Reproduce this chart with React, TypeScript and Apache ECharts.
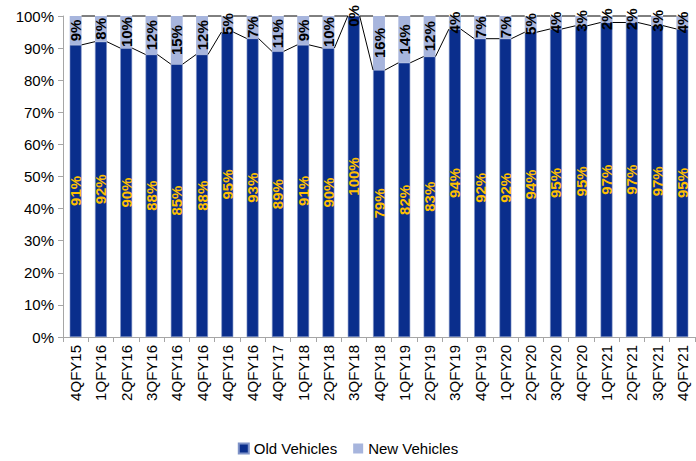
import React, { useEffect, useRef } from "react";
import * as echarts from "echarts";

const categories = [
  "4QFY15", "1QFY16", "2QFY16", "3QFY16", "4QFY16", "4QFY16", "4QFY16", "4QFY16",
  "4QFY17", "1QFY18", "2QFY18", "3QFY18", "4QFY18", "1QFY19", "2QFY19", "3QFY19",
  "4QFY19", "1QFY20", "2QFY20", "3QFY20", "4QFY20", "1QFY21", "2QFY21", "3QFY21", "4QFY21",
];
const oldVehicles = [91, 92, 90, 88, 85, 88, 95, 93, 89, 91, 90, 100, 79, 82, 83, 94, 92, 92, 94, 95, 95, 97, 97, 97, 95];
const newVehicles = [9, 8, 10, 12, 15, 12, 5, 7, 11, 9, 10, 0, 16, 14, 12, 4, 7, 7, 5, 4, 3, 2, 2, 3, 4];
const yTicks = [0, 10, 20, 30, 40, 50, 60, 70, 80, 90, 100];

const FONT = "'Liberation Sans', Arial, sans-serif";
const FS = 15;
const BAR_RATIO = 0.47;

export default function App() {
  const ref = useRef<HTMLDivElement>(null);
  useEffect(() => {
    if (!ref.current) return;
    const chart = echarts.init(ref.current, undefined, { renderer: "svg" });
    const oldNorm = oldVehicles.map((o, i) => (o / (o + newVehicles[i])) * 100);
    const newNorm = newVehicles.map((n, i) => (n / (oldVehicles[i] + n)) * 100);
    const lineData = oldNorm.slice(0, -1).map((v, i) => [i, v, oldNorm[i + 1]]);

    chart.setOption({
      animation: false,
      grid: { left: 63, right: 1, top: 16, bottom: 124, containLabel: false },
      legend: {
        bottom: 0,
        left: "center",
        itemWidth: 10,
        itemHeight: 10,
        itemGap: 16,
        icon: "rect",
        textStyle: { fontFamily: FONT, fontSize: FS, color: "#000" },
        data: ["Old Vehicles", "New Vehicles"],
      },
      xAxis: {
        type: "category",
        data: categories,
        axisLine: { lineStyle: { color: "#A6A6A6" } },
        axisTick: { show: true, alignWithLabel: false, length: 5, lineStyle: { color: "#A6A6A6" } },
        axisLabel: {
          rotate: 90,
          interval: 0,
          margin: 8,
          fontFamily: FONT,
          fontSize: FS,
          color: "#000",
        },
      },
      yAxis: {
        type: "value",
        min: yTicks[0],
        max: yTicks[yTicks.length - 1],
        interval: 10,
        splitLine: { show: false },
        axisLine: { show: true, lineStyle: { color: "#A6A6A6" } },
        axisTick: { show: true, length: 5, lineStyle: { color: "#A6A6A6" } },
        axisLabel: {
          formatter: "{value}%",
          fontFamily: FONT,
          fontSize: FS,
          color: "#000",
          margin: 9,
        },
      },
      series: [
        {
          name: "Old Vehicles",
          type: "bar",
          stack: "total",
          barWidth: BAR_RATIO * 100 + "%",
          data: oldNorm,
          itemStyle: { color: "#0A2E8C", borderColor: "#7F93C8", borderWidth: 0.6 },
          label: {
            show: true,
            position: "inside",
            rotate: 90,
            formatter: (p: any) => oldVehicles[p.dataIndex] + "%",
            fontFamily: FONT,
            fontSize: FS,
            fontWeight: "bold",
            color: "#FFC000",
          },
          z: 2,
        },
        {
          name: "New Vehicles",
          type: "bar",
          stack: "total",
          data: newNorm,
          itemStyle: { color: "#A7B5DD" },
          label: {
            show: true,
            position: "inside",
            rotate: 90,
            formatter: (p: any) => newVehicles[p.dataIndex] + "%",
            fontFamily: FONT,
            fontSize: FS,
            fontWeight: "bold",
            color: "#000",
          },
          z: 2,
        },
        {
          type: "custom",
          silent: true,
          z: 5,
          data: lineData,
          renderItem: (params: any, api: any) => {
            const i = api.value(0);
            const v = api.value(1);
            const vn = api.value(2);
            const band = api.size([1, 0])[0];
            const hw = (band * BAR_RATIO) / 2;
            const a = api.coord([i, v]);
            const b = api.coord([i + 1, vn]);
            const t1 = api.coord([i, 100]);
            const t2 = api.coord([i + 1, 100]);
            const style = { stroke: "#000", lineWidth: 1 };
            return {
              type: "group",
              children: [
                { type: "line", shape: { x1: a[0] + hw, y1: a[1], x2: b[0] - hw, y2: b[1] }, style },
                { type: "line", shape: { x1: t1[0] + hw, y1: t1[1], x2: t2[0] - hw, y2: t2[1] }, style },
              ],
            };
          },
        },
      ],
    });
    return () => chart.dispose();
  }, []);
  return <div ref={ref} style={{ width: 696, height: 461, position: "absolute", left: 0, top: 0 }} />;
}
